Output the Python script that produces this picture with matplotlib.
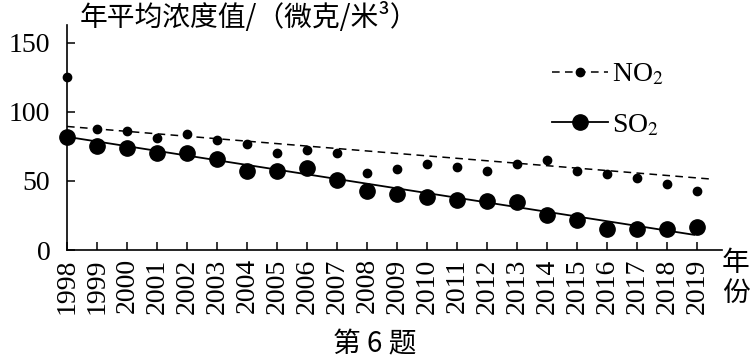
import numpy as np
import matplotlib
matplotlib.use("Agg")
import matplotlib.pyplot as plt

plt.rcParams['font.family'] = ['Liberation Serif', 'Noto Sans CJK SC', 'DejaVu Sans']
plt.rcParams['mathtext.fontset'] = 'stix'

# data
years = np.arange(1998, 2020)
no2 = [125, 88, 86, 81, 84, 79.5, 77, 70, 72.5, 70.5, 56,
       59, 62, 60, 57, 62, 65, 57, 55, 52, 47.5, 43]
so2 = [82, 75.5, 74, 70.5, 70, 66, 57, 57, 59.5, 50.5, 43,
       40.5, 38.5, 36, 35.5, 34.5, 25.5, 21.5, 15, 15.5, 15, 16.5]
# trend lines (end points)
no2_trend_x = [1998, 2019.4]
no2_trend_y = [89.5, 51.5]
so2_trend_x = [1998, 2018.9]
so2_trend_y = [82, 11]
year_labels = [str(y) for y in years]

fig = plt.figure(figsize=(7.5, 3.6), dpi=100)
ax = fig.add_axes([67/750, 110/360, (722-67)/750, (250-25)/360])

dash = (0, (5, 3.5))
ax.plot(no2_trend_x, no2_trend_y, color='black', lw=1.1, ls=dash)
ax.plot(so2_trend_x, so2_trend_y, color='black', lw=1.3)
ax.plot(years, no2, 'o', color='black', ms=6, clip_on=False)
ax.plot(years, so2, 'o', color='black', ms=11, clip_on=False)

# legend handles
h1, = ax.plot([], [], color='black', lw=1.1, ls=dash, marker='o', ms=6)
h2, = ax.plot([], [], color='black', lw=1.3, marker='o', ms=11)
fig.legend([h1, h2], ['NO$_2$', 'SO$_2$'], loc='upper left',
           bbox_to_anchor=(552/750, 1-62/360), frameon=False, fontsize=20,
           handlelength=2.0, handletextpad=0.15, labelspacing=0.9,
           borderaxespad=0, borderpad=0)

ax.set_xlim(1998, 2019.83)
ax.set_ylim(0, 163)
ax.set_xticks(years)
ax.set_xticklabels(year_labels, rotation=90)
ax.set_yticks([0, 50, 100, 150])
ax.spines['top'].set_visible(False)
ax.spines['right'].set_visible(False)
ax.spines['left'].set_linewidth(1.2)
ax.spines['bottom'].set_linewidth(1.2)
ax.tick_params(axis='both', direction='in', length=6, width=1.1, labelsize=20)
ax.tick_params(axis='x', pad=6)
ax.tick_params(axis='y', pad=12)

cjk = ['Noto Sans CJK SC', 'DejaVu Sans']
fig.text(80/750, 1-18/360, '年平均浓度值/（微克/米³）', fontsize=20, va='center', ha='left',
         family=cjk)
fig.text(736/750, 1-278/360, '年\n份', fontsize=20, va='center', ha='center',
         linespacing=1.0, family=cjk)
fig.text(375/750, 1-344/360, '第 6 题', fontsize=20, va='center', ha='center',
         family=cjk)

fig.savefig('out.png', dpi=100)
